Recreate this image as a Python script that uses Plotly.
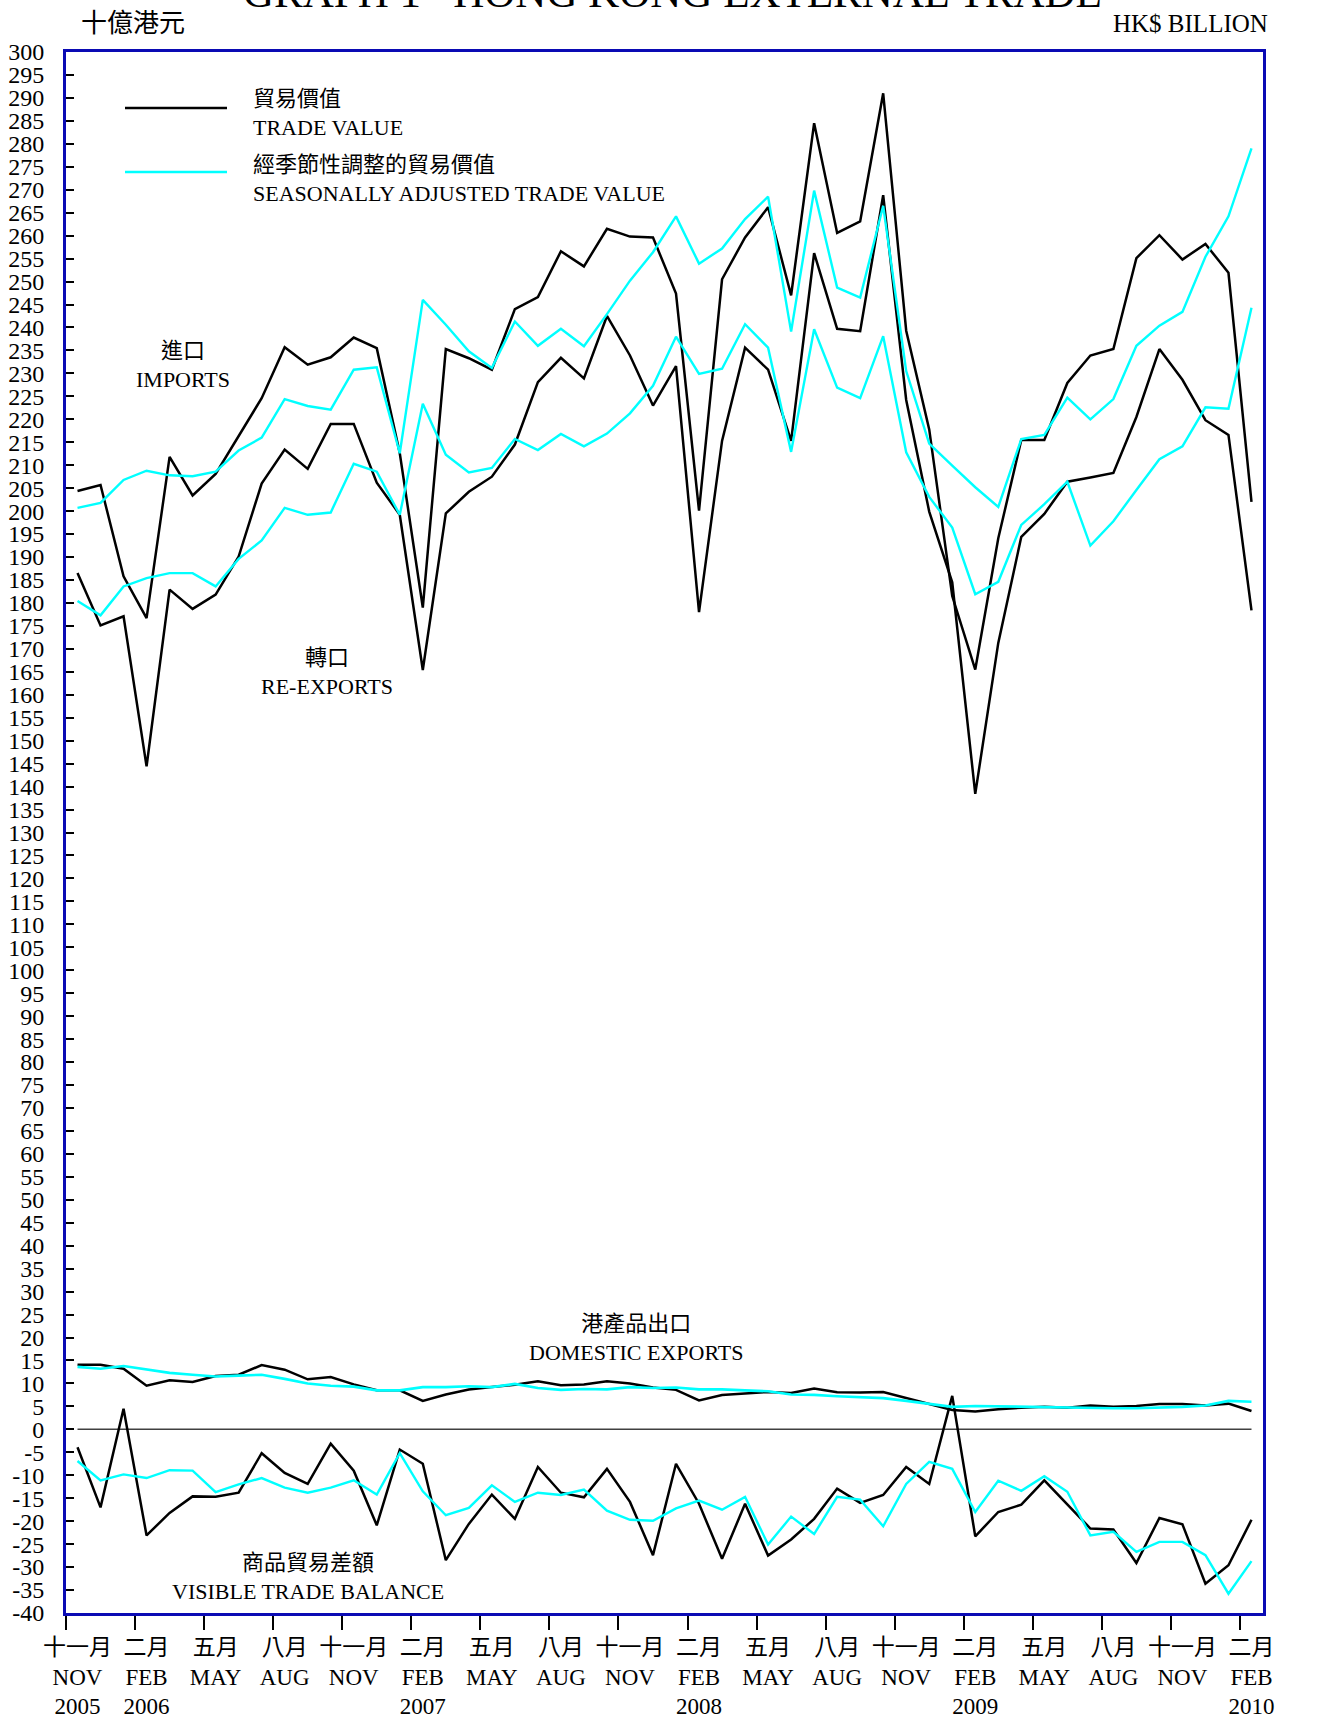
import plotly.graph_objects as go

# ---------------- data (HK$ billion), Nov 2005 .. Feb 2010 ----------------
months = ["2005-11", "2005-12",
          "2006-01", "2006-02", "2006-03", "2006-04", "2006-05", "2006-06",
          "2006-07", "2006-08", "2006-09", "2006-10", "2006-11", "2006-12",
          "2007-01", "2007-02", "2007-03", "2007-04", "2007-05", "2007-06",
          "2007-07", "2007-08", "2007-09", "2007-10", "2007-11", "2007-12",
          "2008-01", "2008-02", "2008-03", "2008-04", "2008-05", "2008-06",
          "2008-07", "2008-08", "2008-09", "2008-10", "2008-11", "2008-12",
          "2009-01", "2009-02", "2009-03", "2009-04", "2009-05", "2009-06",
          "2009-07", "2009-08", "2009-09", "2009-10", "2009-11", "2009-12",
          "2010-01", "2010-02"]

imports = [204.4, 205.7, 185.8, 176.7, 211.8, 203.4, 208.1, 216.4, 224.6, 235.7,
           231.9, 233.5, 237.8, 235.5, 212.6, 179.0, 235.3, 233.3, 230.8, 244.0,
           246.6, 256.6, 253.3, 261.5, 259.8, 259.6, 247.4, 200.1, 250.5, 259.6,
           266.2, 247.0, 284.5, 260.6, 263.1, 291.0, 239.3, 217.8, 181.5, 165.5,
           194.1, 215.5, 215.5, 227.9, 233.9, 235.3, 255.1, 260.1, 254.8, 258.2,
           251.9, 202.0]
imports_sa = [200.7, 201.8, 206.8, 208.8, 207.8, 207.6, 208.6, 213.2, 216.0, 224.4,
              222.9, 222.1, 230.8, 231.3, 212.6, 246.0, 240.6, 234.8, 231.2, 241.3,
              236.0, 239.7, 235.9, 242.9, 250.2, 256.4, 264.2, 253.9, 257.2, 263.6,
              268.5, 239.1, 269.8, 248.7, 246.5, 266.5, 230.5, 214.7, 209.9, 205.2,
              200.9, 215.7, 216.6, 224.7, 220.0, 224.4, 236.0, 240.4, 243.4, 255.4,
              264.2, 279.0]
re_exports = [186.5, 175.1, 177.1, 144.4, 182.9, 178.7, 181.8, 190.1, 206.0, 213.4,
              209.2, 219.0, 219.0, 206.2, 199.2, 165.4, 199.5, 204.2, 207.5, 214.5,
              228.1, 233.4, 228.9, 242.5, 233.9, 223.0, 231.6, 178.0, 215.3, 235.6,
              230.8, 215.3, 256.2, 239.7, 239.2, 268.8, 224.2, 199.9, 184.5, 138.4,
              171.3, 194.4, 199.4, 206.4, 207.3, 208.3, 220.5, 235.3, 228.6, 219.8,
              216.6, 178.4]
re_exports_sa = [180.4, 177.3, 183.6, 185.4, 186.5, 186.5, 183.6, 189.6, 193.6, 200.7,
                 199.2, 199.7, 210.3, 208.6, 199.2, 223.4, 212.3, 208.4, 209.4, 215.7,
                 213.3, 216.8, 214.1, 216.9, 221.3, 227.3, 238.0, 229.9, 231.0, 240.7,
                 235.6, 212.9, 239.6, 226.9, 224.6, 238.1, 212.8, 203.1, 196.4, 181.9,
                 184.6, 197.0, 201.5, 206.4, 192.5, 197.8, 204.6, 211.3, 214.1, 222.6,
                 222.3, 244.3]
domestic = [14.05, 14.05, 13.2, 9.5, 10.7, 10.3, 11.6, 11.9, 14.0, 13.0,
            10.9, 11.4, 9.8, 8.5, 8.5, 6.2, 7.6, 8.7, 9.2, 9.7,
            10.5, 9.6, 9.75, 10.5, 10.0, 9.1, 8.6, 6.3, 7.5, 7.8,
            8.15, 7.9, 8.9, 8.1, 8.0, 8.15, 6.8, 5.5, 4.2, 3.9,
            4.4, 4.7, 4.95, 4.7, 5.2, 4.95, 5.1, 5.5, 5.5, 5.2,
            5.6, 4.0]
domestic_sa = [13.6, 13.2, 13.8, 13.0, 12.3, 11.9, 11.5, 11.7, 11.9, 11.0,
               10.0, 9.5, 9.3, 8.5, 8.5, 9.2, 9.2, 9.4, 9.2, 9.9,
               9.0, 8.6, 8.8, 8.7, 9.2, 9.0, 9.1, 8.7, 8.7, 8.5,
               8.3, 7.6, 7.5, 7.2, 7.0, 6.8, 6.2, 5.5, 4.9, 5.1,
               5.0, 4.95, 4.8, 4.7, 4.6, 4.6, 4.6, 4.7, 4.9, 5.2,
               6.2, 6.0]
balance = [-3.9, -17.0, 4.5, -23.1, -18.2, -14.6, -14.7, -13.8, -5.2, -9.5,
           -11.9, -3.1, -9.0, -20.9, -4.4, -7.5, -28.5, -20.6, -14.2, -19.5,
           -8.2, -13.8, -14.8, -8.6, -15.8, -27.4, -7.5, -16.2, -28.2, -16.2,
           -27.5, -24.0, -19.5, -12.9, -16.0, -14.3, -8.2, -11.9, 7.3, -23.3,
           -18.0, -16.4, -11.1, -16.4, -21.6, -21.8, -29.1, -19.3, -20.7, -33.6,
           -29.6, -19.7]
balance_sa = [-6.9, -11.1, -9.8, -10.6, -8.9, -9.0, -13.7, -12.0, -10.6, -12.7,
              -13.8, -12.7, -11.1, -14.2, -5.2, -13.5, -18.7, -17.1, -12.2, -15.8,
              -13.8, -14.3, -13.1, -17.7, -19.7, -19.9, -17.2, -15.5, -17.5, -14.7,
              -25.1, -19.0, -22.8, -14.7, -15.3, -21.1, -11.9, -7.1, -8.6, -18.0,
              -11.2, -13.4, -10.2, -13.6, -23.1, -22.3, -26.7, -24.5, -24.5, -27.4,
              -35.8, -28.7]

# ---------------- tick labels ----------------
tick_months = ["2005-11", "2006-02", "2006-05", "2006-08", "2006-11", "2007-02",
               "2007-05", "2007-08", "2007-11", "2008-02", "2008-05", "2008-08",
               "2008-11", "2009-02", "2009-05", "2009-08", "2009-11", "2010-02"]
tick_cn = ["十一月", "二月", "五月", "八月", "十一月", "二月", "五月", "八月", "十一月",
           "二月", "五月", "八月", "十一月", "二月", "五月", "八月", "十一月", "二月"]
tick_en = ["NOV", "FEB", "MAY", "AUG", "NOV", "FEB", "MAY", "AUG", "NOV",
           "FEB", "MAY", "AUG", "NOV", "FEB", "MAY", "AUG", "NOV", "FEB"]
tick_year = ["2005", "2006", "", "", "", "2007", "", "", "",
             "2008", "", "", "", "2009", "", "", "", "2010"]
y_ticks = list(range(-40, 301, 5))
y_ticktext = [str(v) for v in y_ticks]

# ---------------- style ----------------
W, H = 1320, 1724
L, R, T, B = 66, 57, 52, 111
BLUE = "#0A0AB4"
CYAN = "#00FFFF"
FONT = "Liberation Serif, Noto Sans CJK TC, serif"

x = list(range(len(months)))
tick_pos = [months.index(m) for m in tick_months]
bounds = [p - 0.5 for p in tick_pos]
ticktext = []
for cn, en, yr in zip(tick_cn, tick_en, tick_year):
    ticktext.append(cn + "<br>" + en + "<br>" + (yr if yr else "\u00a0"))

def px(xp):
    return (xp - L) / (W - L - R)

def py(yp):
    return (H - B - yp) / (H - T - B)

fig = go.Figure()
for series, color, width in [(imports, "black", 2.5), (re_exports, "black", 2.5),
                             (domestic, "black", 2.5), (balance, "black", 2.5),
                             (imports_sa, CYAN, 2.4), (re_exports_sa, CYAN, 2.4),
                             (domestic_sa, CYAN, 2.6), (balance_sa, CYAN, 2.4)]:
    fig.add_trace(go.Scatter(x=x, y=series, mode="lines",
                             line=dict(color=color, width=width),
                             showlegend=False, hoverinfo="skip"))

# zero reference line from first to last month
fig.add_shape(type="line", xref="x", yref="y", x0=x[0], x1=x[-1], y0=0, y1=0,
              line=dict(color="#404040", width=1.5), layer="below")

# legend samples
fig.add_shape(type="line", xref="paper", yref="paper", x0=px(125), x1=px(227),
              y0=py(108), y1=py(108), line=dict(color="black", width=2.5))
fig.add_shape(type="line", xref="paper", yref="paper", x0=px(125), x1=px(227),
              y0=py(172), y1=py(172), line=dict(color=CYAN, width=2.5))

ann = []
def a(text, xx, yy, size=22, xanchor="center", yanchor="middle", xref="paper", yref="paper", align="center"):
    ann.append(dict(text=text, x=xx, y=yy, xref=xref, yref=yref, showarrow=False,
                    xanchor=xanchor, yanchor=yanchor, align=align,
                    font=dict(family=FONT, size=size, color="black")))

a("貿易價值<br>TRADE VALUE", px(251), py(112.5), xanchor="left", align="left")
a("經季節性調整的貿易價值<br>SEASONALLY ADJUSTED TRADE VALUE", px(251), py(179), xanchor="left", align="left")
a("進口<br>IMPORTS", px(183), py(365.5))
a("轉口<br>RE-EXPORTS", px(327), py(672))
a("港產品出口<br>DOMESTIC EXPORTS", px(636), py(1338))
a("商品貿易差額<br>VISIBLE TRADE BALANCE", px(308), py(1576.5))
a("十億港元", px(79), py(24), size=26, xanchor="left")
a("HK$ BILLION", px(1270), py(24), size=25, xanchor="right")
a("GRAPH 1\u00a0\u00a0\u00a0HONG KONG EXTERNAL TRADE", px(672), py(18), size=43, yanchor="bottom")

fig.update_layout(
    width=W, height=H,
    margin=dict(l=L, r=R, t=T, b=B, pad=0),
    paper_bgcolor="white", plot_bgcolor="white",
    showlegend=False,
    font=dict(family=FONT, size=22, color="black"),
    annotations=ann,
    xaxis=dict(range=[-0.5, len(months) - 0.5], tickmode="array", tickvals=tick_pos,
               ticktext=ticktext, ticks="", showgrid=False, zeroline=False,
               showline=True, linecolor=BLUE, linewidth=3, mirror=True,
               tickfont=dict(family=FONT, size=23, color="black"),
               ticklabelstandoff=11, automargin=False,
               minor=dict(tickmode="array", tickvals=bounds, ticks="outside",
                          ticklen=14, tickwidth=1.5, tickcolor="black", showgrid=False)),
    yaxis=dict(range=[-40, 300], tickmode="array", tickvals=y_ticks, ticktext=y_ticktext,
               ticks="inside", ticklen=8, tickwidth=1.5, tickcolor="black",
               showgrid=False, zeroline=False, showline=True, linecolor=BLUE,
               linewidth=3, mirror=True, automargin=False,
               tickfont=dict(family=FONT, size=24, color="black"),
               ticklabelstandoff=14),
    yaxis2=dict(range=[-40, 300], overlaying="y", side="right", tickmode="array",
                tickvals=y_ticks, ticktext=y_ticktext, ticks="inside", ticklen=8,
                tickwidth=1.5, tickcolor="black", showgrid=False, zeroline=False,
                showline=False, automargin=False,
                tickfont=dict(family=FONT, size=24, color="black"),
                ticklabelstandoff=16),
)

fig.write_html("out.html", config={"displayModeBar": False},
               post_script="document.body.style.margin='0';document.body.style.overflow='hidden';")
